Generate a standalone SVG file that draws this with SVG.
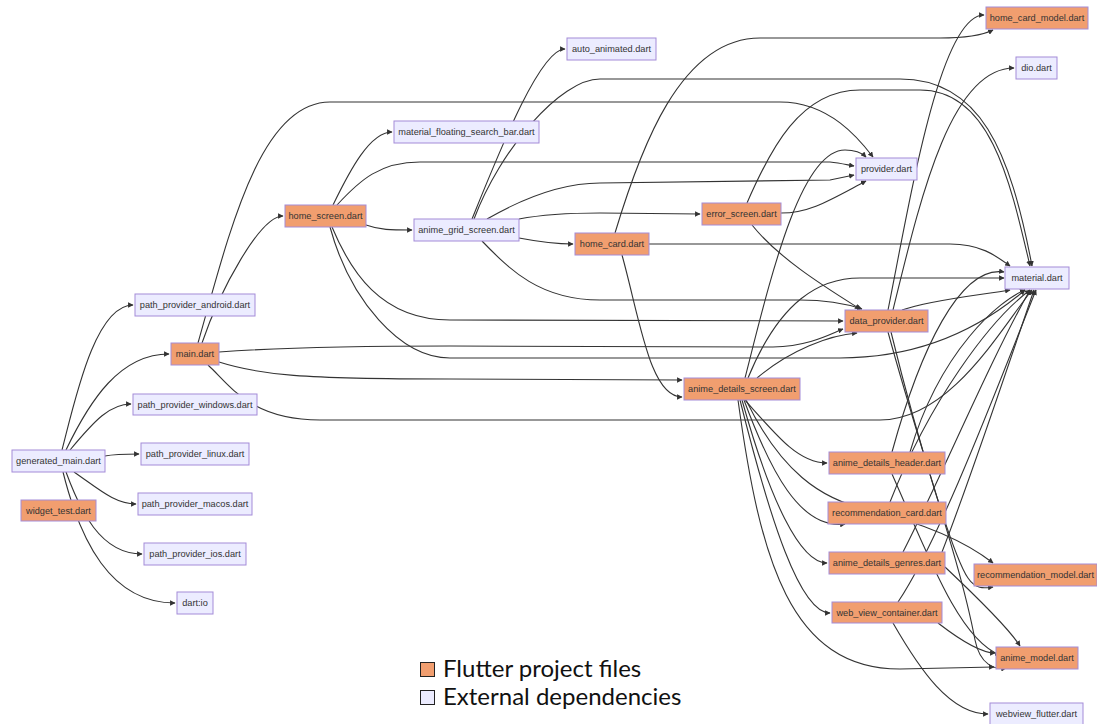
<svg xmlns="http://www.w3.org/2000/svg" width="1097" height="724" viewBox="0 0 1097 724">
<defs>
<marker id="ah" viewBox="0 0 10 10" refX="9" refY="5" markerWidth="5" markerHeight="5" orient="auto"><path d="M0,0 L10,5 L0,10 z" fill="#333"/></marker>
<style>
.e{fill:none;stroke:#333;stroke-width:1.1;marker-end:url(#ah)}
.p rect{fill:#f19e6f;stroke:#a48bd8;stroke-width:1}
.x rect{fill:#ececff;stroke:#a48bd8;stroke-width:1}
text{font-family:"Liberation Sans",Arial,sans-serif;font-size:9.2px;fill:#333;text-anchor:middle;dominant-baseline:central}
.lg{font-family:"Lato","Liberation Sans",sans-serif;font-size:24px;fill:#111;text-anchor:start;dominant-baseline:auto}
</style>
</defs>
<rect width="1097" height="724" fill="#fff"/>
<g id="connectors">
<path class="e" d="M62,450 C75,400 95,305 133,305"/>
<path class="e" d="M66,450 C90,400 120,354 169,354"/>
<path class="e" d="M70,450 C95,420 110,404 131,404"/>
<path class="e" d="M105,456 C115,454 125,454 139,454"/>
<path class="e" d="M74,472 C100,490 115,504 136,504"/>
<path class="e" d="M66,472 C80,510 100,554 142,554"/>
<path class="e" d="M63,472 C80,540 110,603 175,603"/>
<path class="e" d="M202,343 C220,290 260,216 283,216"/>
<path class="e" d="M198,343 C230,230 260,102 330,102 L780,102 C830,102 860,140 873,157"/>
<path class="e" d="M219,352 C300,346 400,346 450,346 L773,347 C810,346 830,334 843,329"/>
<path class="e" d="M219,362 C260,375 300,379 450,379 L682,380"/>
<path class="e" d="M208,365 C230,385 250,420 320,420 L880,420 C950,420 1000,330 1032,290"/>
<path class="e" d="M333,205 C350,170 370,132 392,132"/>
<path class="e" d="M337,205 C360,180 380,162 420,162 L830,162 C840,163 848,165 854,166"/>
<path class="e" d="M366,225 C380,230 390,230 412,230"/>
<path class="e" d="M332,227 C350,270 380,320 450,320 L843,321"/>
<path class="e" d="M330,227 C350,300 400,358 450,358 L840,358 C930,358 990,320 1025,290"/>
<path class="e" d="M472,219 C500,150 540,49 565,49"/>
<path class="e" d="M474,219 C500,150 560,79 600,79 L900,79 C980,79 1010,150 1032,266"/>
<path class="e" d="M487,219 C520,200 560,183 600,183 L830,180 L854,175"/>
<path class="e" d="M519,219 C540,215 560,213 600,213 L700,214"/>
<path class="e" d="M519,238 C540,242 555,244 573,244"/>
<path class="e" d="M482,241 C510,270 540,300 600,300 L800,300 C830,300 850,305 862,309"/>
<path class="e" d="M615,233 C640,150 680,38 760,38 L940,38 C970,38 985,34 993,30"/>
<path class="e" d="M649,244 L950,244 C980,244 995,255 1010,266"/>
<path class="e" d="M622,255 C640,320 650,397 682,397"/>
<path class="e" d="M747,203 C770,150 800,90 860,90 L920,90 C990,90 1010,180 1030,266"/>
<path class="e" d="M781,213 C810,213 830,200 866,181"/>
<path class="e" d="M752,225 C780,260 830,290 860,309"/>
<path class="e" d="M888,310 C910,200 940,15 984,15"/>
<path class="e" d="M893,310 C920,200 950,68 1014,68"/>
<path class="e" d="M902,310 C930,300 980,295 1010,290"/>
<path class="e" d="M888,332 C920,450 960,560 975,640 C980,665 995,670 1006,668"/>
<path class="e" d="M891,332 C920,450 955,560 968,578 C976,590 985,588 993,587"/>
<path class="e" d="M745,378 C770,280 800,150 845,150 C855,150 862,153 866,157"/>
<path class="e" d="M748,378 C780,300 820,278 860,278 L1004,278"/>
<path class="e" d="M757,378 C790,350 830,335 857,333"/>
<path class="e" d="M745,400 C780,440 800,463 827,463"/>
<path class="e" d="M744,400 C770,470 800,530 845,524"/>
<path class="e" d="M746,400 C780,470 820,500 870,510 C930,525 970,545 993,563"/>
<path class="e" d="M742,400 C770,500 800,563 827,563"/>
<path class="e" d="M740,400 C770,520 800,613 830,613"/>
<path class="e" d="M738,400 C760,560 790,669 900,669 L994,667"/>
<path class="e" d="M892,452 C920,350 960,265 1004,272"/>
<path class="e" d="M910,452 C940,350 1000,300 1025,290"/>
<path class="e" d="M892,474 C930,560 960,640 1000,655"/>
<path class="e" d="M890,502 C930,400 990,320 1030,290"/>
<path class="e" d="M903,552 C940,480 990,360 1030,290"/>
<path class="e" d="M942,552 C970,480 1010,360 1034,290"/>
<path class="e" d="M945,567 C980,600 1010,630 1020,646"/>
<path class="e" d="M898,602 C940,540 1000,380 1036,290"/>
<path class="e" d="M938,623 C960,640 980,653 995,653"/>
<path class="e" d="M893,623 C920,670 950,714 988,714"/>
</g>
<g id="generated_main" class="x"><rect x="12" y="450" width="93" height="22"/><text x="58.5" y="461">generated_main.dart</text></g>
<g id="widget_test" class="p"><rect x="21" y="500" width="75" height="21"/><text x="58.5" y="510.5">widget_test.dart</text></g>
<g id="path_provider_android" class="x"><rect x="135" y="294" width="120" height="22"/><text x="195" y="305">path_provider_android.dart</text></g>
<g id="main" class="p"><rect x="171" y="343" width="48" height="22"/><text x="195" y="354">main.dart</text></g>
<g id="path_provider_windows" class="x"><rect x="133" y="394" width="124" height="21"/><text x="195" y="404.5">path_provider_windows.dart</text></g>
<g id="path_provider_linux" class="x"><rect x="141" y="443" width="108" height="22"/><text x="195" y="454">path_provider_linux.dart</text></g>
<g id="path_provider_macos" class="x"><rect x="138" y="493" width="114" height="22"/><text x="195" y="504">path_provider_macos.dart</text></g>
<g id="path_provider_ios" class="x"><rect x="144" y="543" width="102" height="22"/><text x="195" y="554">path_provider_ios.dart</text></g>
<g id="dart_io" class="x"><rect x="177" y="592" width="36" height="22"/><text x="195" y="603">dart:io</text></g>
<g id="home_screen" class="p"><rect x="285" y="205" width="81" height="22"/><text x="325.5" y="216">home_screen.dart</text></g>
<g id="material_floating_search_bar" class="x"><rect x="394" y="121" width="145" height="22"/><text x="466.5" y="132">material_floating_search_bar.dart</text></g>
<g id="anime_grid_screen" class="x"><rect x="414" y="219" width="105" height="22"/><text x="466.5" y="230">anime_grid_screen.dart</text></g>
<g id="auto_animated" class="x"><rect x="567" y="38" width="89" height="22"/><text x="611.5" y="49">auto_animated.dart</text></g>
<g id="home_card" class="p"><rect x="575" y="233" width="74" height="22"/><text x="612" y="244">home_card.dart</text></g>
<g id="error_screen" class="p"><rect x="702" y="203" width="79" height="22"/><text x="741.5" y="214">error_screen.dart</text></g>
<g id="anime_details_screen" class="p"><rect x="684" y="378" width="116" height="22"/><text x="742" y="389">anime_details_screen.dart</text></g>
<g id="provider" class="x"><rect x="856" y="158" width="61" height="22"/><text x="886.5" y="169">provider.dart</text></g>
<g id="data_provider" class="p"><rect x="845" y="310" width="83" height="22"/><text x="886.5" y="321">data_provider.dart</text></g>
<g id="anime_details_header" class="p"><rect x="829" y="452" width="116" height="22"/><text x="887" y="463">anime_details_header.dart</text></g>
<g id="recommendation_card" class="p"><rect x="828" y="502" width="118" height="22"/><text x="887" y="513">recommendation_card.dart</text></g>
<g id="anime_details_genres" class="p"><rect x="829" y="552" width="116" height="22"/><text x="887" y="563">anime_details_genres.dart</text></g>
<g id="web_view_container" class="p"><rect x="832" y="602" width="110" height="21"/><text x="887" y="612.5">web_view_container.dart</text></g>
<g id="home_card_model" class="p"><rect x="986" y="7" width="102" height="22"/><text x="1037" y="18">home_card_model.dart</text></g>
<g id="dio" class="x"><rect x="1016" y="57" width="41" height="22"/><text x="1036.5" y="68">dio.dart</text></g>
<g id="material" class="x"><rect x="1005" y="267" width="64" height="22"/><text x="1037" y="278">material.dart</text></g>
<g id="recommendation_model" class="p"><rect x="974" y="564" width="123" height="22"/><text x="1035.5" y="575">recommendation_model.dart</text></g>
<g id="anime_model" class="p"><rect x="996" y="647" width="82" height="22"/><text x="1037" y="658">anime_model.dart</text></g>
<g id="webview_flutter" class="x"><rect x="990" y="703" width="93" height="22"/><text x="1036.5" y="714">webview_flutter.dart</text></g>
<g id="legend">
<rect x="420.5" y="662.5" width="14" height="14" fill="#f19e6f" stroke="#222" stroke-width="1"/>
<text class="lg" x="443" y="677">Flutter project files</text>
<rect x="420.5" y="690.5" width="14" height="14" fill="#ececff" stroke="#222" stroke-width="1"/>
<text class="lg" x="443" y="705">External dependencies</text>
</g>
</svg>
